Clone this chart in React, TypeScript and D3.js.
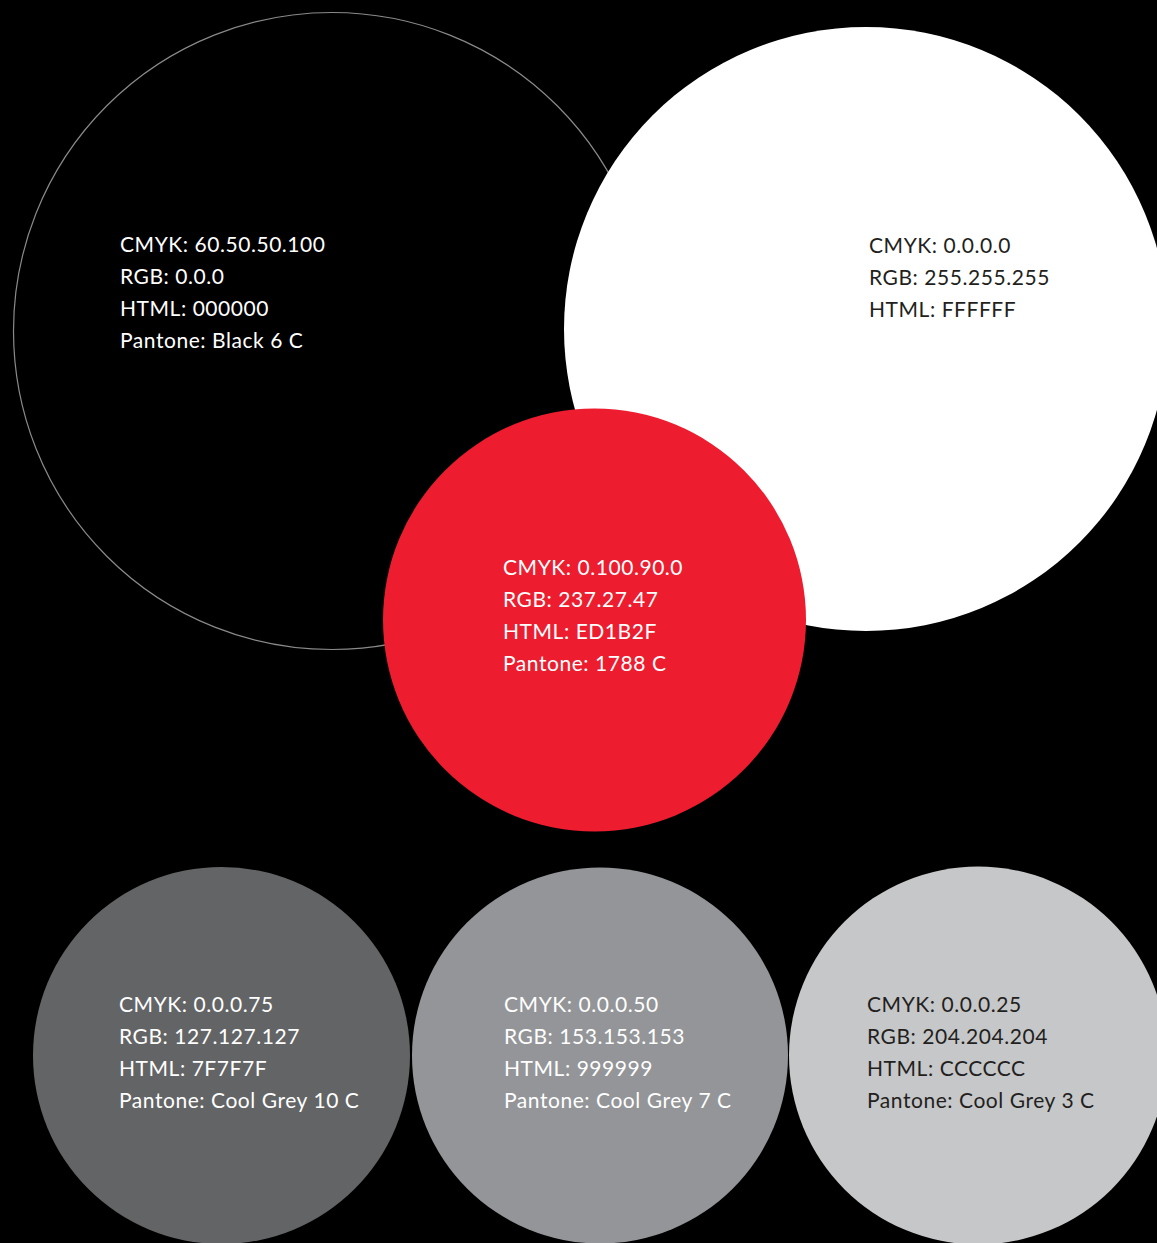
import React from "react";
import * as d3 from "d3";

const swatchNames = ["Black", "White", "Red", "Cool Grey 10", "Cool Grey 7", "Cool Grey 3"];
const cmykValues = ["60.50.50.100", "0.0.0.0", "0.100.90.0", "0.0.0.75", "0.0.0.50", "0.0.0.25"];
const rgbValues = ["0.0.0", "255.255.255", "237.27.47", "127.127.127", "153.153.153", "204.204.204"];
const htmlValues = ["000000", "FFFFFF", "ED1B2F", "7F7F7F", "999999", "CCCCCC"];
const pantoneValues = ["Black 6 C", "", "1788 C", "Cool Grey 10 C", "Cool Grey 7 C", "Cool Grey 3 C"];
const fillColors = ["#000000", "#ffffff", "#ed1c2f", "#636466", "#939598", "#c6c7c9"];
const textColors = ["#ffffff", "#231f20", "#ffffff", "#ffffff", "#ffffff", "#231f20"];

// layout (pixels)
const circleLayout = [
  { cx: 332, cy: 331, r: 318.5, tx: 120, ty: 252, stroke: "#8a8a8a" },
  { cx: 866, cy: 329, r: 302, tx: 869, ty: 253, stroke: "none" },
  { cx: 594.5, cy: 620, r: 211.5, tx: 503, ty: 575, stroke: "none" },
  { cx: 221.5, cy: 1055.5, r: 188.5, tx: 119, ty: 1012, stroke: "none" },
  { cx: 600, cy: 1055.5, r: 188, tx: 504, ty: 1012, stroke: "none" },
  { cx: 978, cy: 1055.5, r: 189, tx: 867, ty: 1012, stroke: "none" },
];

const W = 1157;
const H = 1243;
const lineStep = 32;

export default function App() {
  const swatches = swatchNames.map((name, i) => {
    const lines = [
      `CMYK: ${cmykValues[i]}`,
      `RGB: ${rgbValues[i]}`,
      `HTML: ${htmlValues[i]}`,
    ];
    if (pantoneValues[i]) lines.push(`Pantone: ${pantoneValues[i]}`);
    return { name, lines, fill: fillColors[i], text: textColors[i], ...circleLayout[i] };
  });
  const lineY = d3.scaleLinear().domain([0, 1]).range([0, lineStep]);

  return (
    <svg
      width={W}
      height={H}
      viewBox={`0 0 ${W} ${H}`}
      style={{ position: "absolute", left: 0, top: 0, display: "block", background: "#000" }}
    >
      <rect x={0} y={0} width={W} height={H} fill="#000" />
      {swatches.map((s) => (
        <circle
          key={s.name}
          cx={s.cx}
          cy={s.cy}
          r={s.r}
          fill={s.fill}
          stroke={s.stroke}
          strokeWidth={s.stroke === "none" ? 0 : 1.2}
        />
      ))}
      {swatches.map((s) => (
        <g key={s.name + "-t"} transform={`translate(${s.tx},${s.ty})`}>
          {s.lines.map((l, j) => (
            <text
              key={j}
              x={0}
              y={lineY(j)}
              fill={s.text}
              fontFamily="Lato, 'Noto Sans', sans-serif"
              fontSize={21}
              letterSpacing={0.55}
            >
              {l}
            </text>
          ))}
        </g>
      ))}
    </svg>
  );
}
